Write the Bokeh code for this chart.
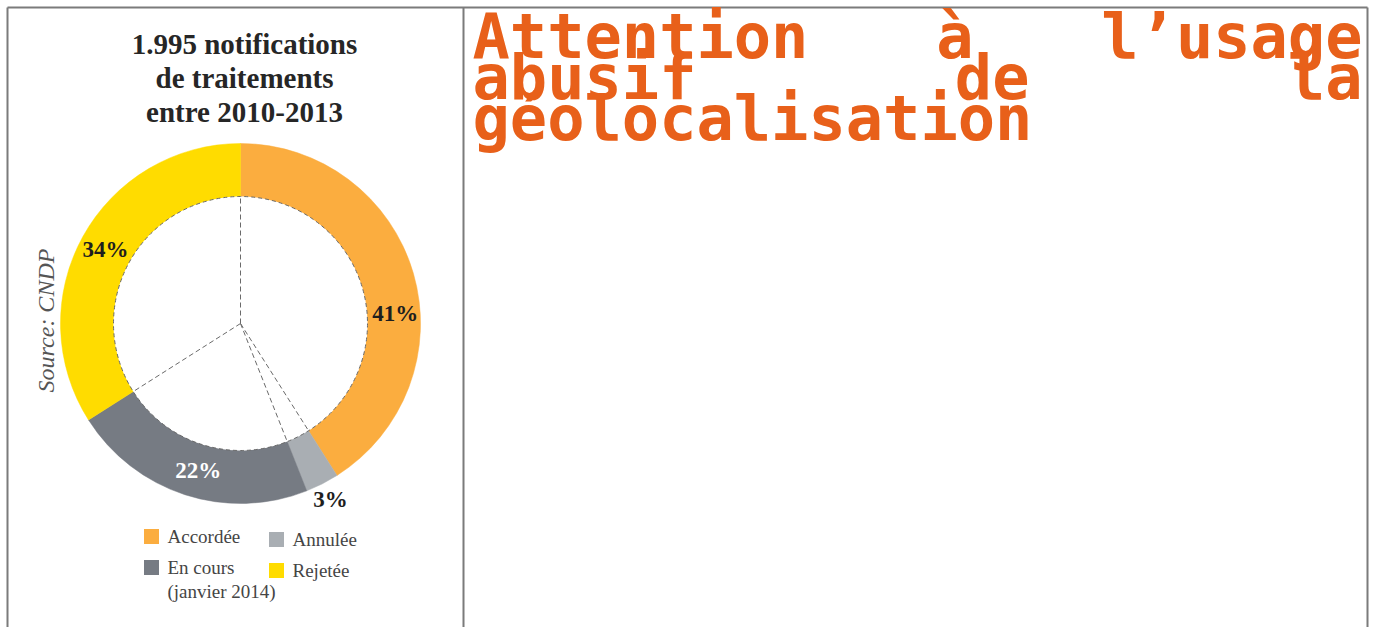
import math
from bokeh.plotting import figure
from bokeh.models import Range1d, ColumnDataSource
from bokeh.core.properties import value
from bokeh.embed import file_html
from bokeh.resources import INLINE

# ---------------- data ----------------
categories = ["Accordée", "Annulée", "En cours", "Rejetée"]
shares = [41, 3, 22, 34]
share_labels = ["41%", "3%", "22%", "34%"]
colors = ["#FBAD3F", "#A9AEB3", "#767B83", "#FFDC00"]
label_colors = ["#1e1e1e", "#1e1e1e", "#ffffff", "#1e1e1e"]

chart_title = ["1.995 notifications", "de traitements", "entre 2010-2013"]
source_text = "Source: CNDP"
legend_rows = [["Accordée"], ["Annulée"], ["En cours", "(janvier 2014)"], ["Rejetée"]]
headline_lines = [["Attention", "à", "l’usage"], ["abusif", "de", "la"], ["géolocalisation"]]

# ---------------- layout helpers ----------------
W, H = 1373, 627


def Y(py):
    return H - py


p = figure(width=W, height=H, x_range=Range1d(0, W), y_range=Range1d(0, H),
           output_backend="svg", toolbar_location=None, min_border=0)
p.axis.visible = False
p.grid.visible = False
p.outline_line_color = None
p.background_fill_color = "white"
p.border_fill_color = "white"

# frame lines
frame_color = "#7b7b7b"
p.line([7, 1367], [Y(7), Y(7)], line_color=frame_color, line_width=2)
for fx in (7, 463, 1367):
    p.line([fx, fx], [Y(7), Y(H + 5)], line_color=frame_color, line_width=2)

# ---------------- donut ----------------
cx, cy = 240, Y(323)
r_out, r_in = 180, 127
total = float(sum(shares))
starts, ends, mids = [], [], []
acc = 0.0
for s in shares:
    a0 = 90 - acc / total * 360
    acc += s
    a1 = 90 - acc / total * 360
    starts.append(math.radians(a0))
    ends.append(math.radians(a1))
    mids.append((a0 + a1) / 2)

src = ColumnDataSource(dict(start=starts, end=ends, color=colors, cat=categories))
p.annular_wedge(x=cx, y=cy, inner_radius=r_in, outer_radius=r_out,
                start_angle="start", end_angle="end", direction="clock",
                fill_color="color", line_color="color", line_width=0.5, source=src)

# dashed inner circle
p.circle(x=[cx], y=[cy], radius=r_in, fill_color="white", line_color="#6a6a6a",
         line_dash="4 3", line_width=1)
# dashed radial separators
for a in starts:
    p.line([cx, cx + r_in * math.cos(a)], [cy, cy + r_in * math.sin(a)],
           line_color="#6a6a6a", line_dash="5 3", line_width=1)

# percentage labels (placement tweaks)
label_shift = [-12.5, 0, 2, 0]
label_radius = [155, 198, 153, 154]
lx, ly = [], []
for m, sh, rr in zip(mids, label_shift, label_radius):
    a = math.radians(m + sh)
    lx.append(cx + rr * math.cos(a))
    ly.append(cy + rr * math.sin(a))
p.text(x=lx, y=ly, text=share_labels, text_color=label_colors,
       text_font=value("Liberation Serif"), text_font_style="bold",
       text_font_size="23px", text_align="center", text_baseline="middle")

# chart title
for i, t in enumerate(chart_title):
    p.text(x=[244], y=[Y(43 + 34 * i)], text=[t], text_color="#262626",
           text_font=value("Liberation Serif"), text_font_style="bold",
           text_font_size="29px", text_align="center", text_baseline="middle")

# source (rotated)
p.text(x=[45], y=[Y(320)], text=[source_text], angle=math.pi / 2,
       text_color="#555555", text_font=value("Liberation Serif"),
       text_font_style="italic", text_font_size="24px",
       text_align="center", text_baseline="middle")

# legend
sq_x = [151, 276, 151, 276]
sq_y = [536, 539, 567, 570]
p.rect(x=sq_x, y=[Y(v) for v in sq_y], width=15, height=15,
       fill_color=colors, line_color=None)
for i, rows in enumerate(legend_rows):
    for j, t in enumerate(rows):
        p.text(x=[sq_x[i] + 16], y=[Y(sq_y[i] + 24 * j)], text=[t],
               text_color="#454545", text_font=value("Liberation Serif"),
               text_font_size="19px", text_align="left", text_baseline="middle")

# ---------------- headline (justified monospace) ----------------
fs = 62
adv = 0.602 * fs
left, right = 472, 1362
centers = [36, 77, 118]
for li, words in enumerate(headline_lines):
    n_chars = sum(len(w) for w in words)
    justify = li < len(headline_lines) - 1 and len(words) > 1
    gap = (right - left - n_chars * adv) / (len(words) - 1) if justify else adv
    x = left
    for w in words:
        p.text(x=[x], y=[Y(centers[li])], text=[w], text_color="#E8601A",
               text_font=value("DejaVu Sans Mono"), text_font_style="bold",
               text_font_size=f"{fs}px", text_align="left",
               text_baseline="middle")
        x += len(w) * adv + gap

open("out.html", "w").write(file_html(p, INLINE))
